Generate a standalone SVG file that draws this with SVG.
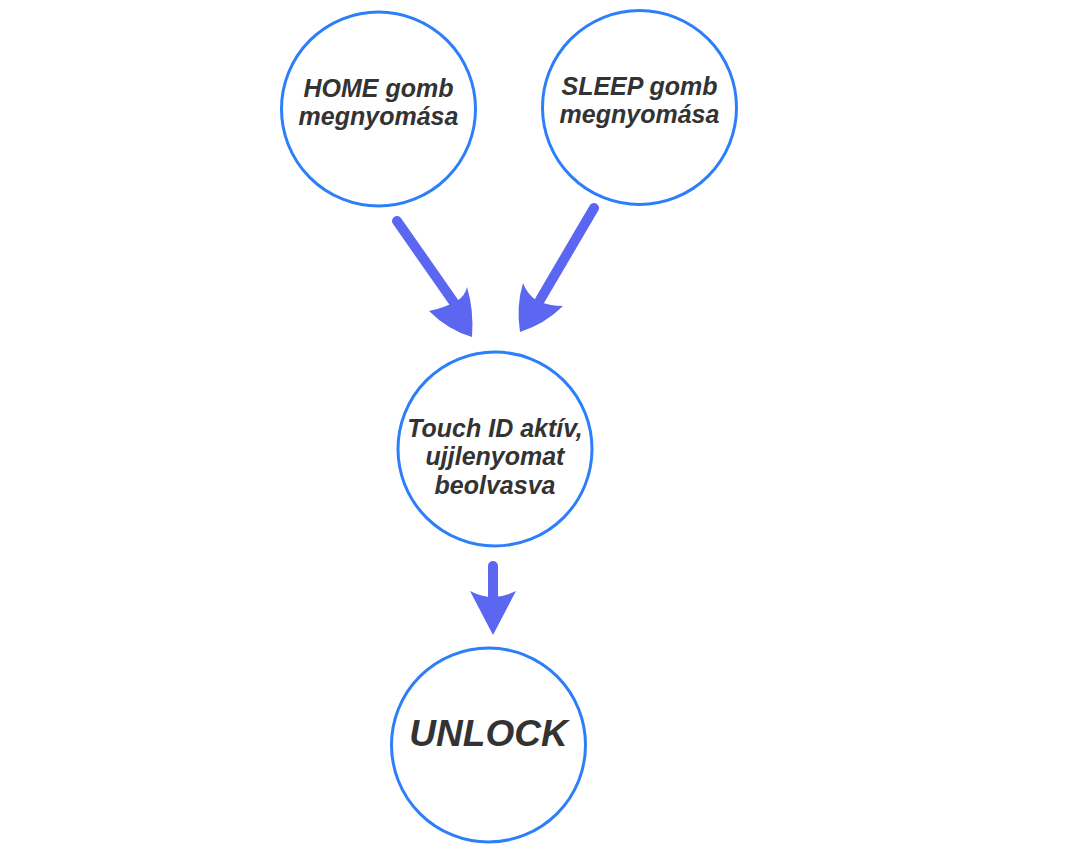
<svg xmlns="http://www.w3.org/2000/svg" width="1075" height="851" viewBox="0 0 1075 851">
<style>
.node{fill:#fff;stroke:#2d7ff9;stroke-width:3}
.t{font-family:"Liberation Sans",Arial,sans-serif;font-weight:bold;font-style:italic;font-size:25px;fill:#333;text-anchor:middle}
.big{font-size:37px}
.shaft{stroke:#5b67f0;stroke-width:10;stroke-linecap:round;fill:none}
.head{fill:#5b67f0}
</style>
<rect width="1075" height="851" fill="#fff"/>
<g id="connectors">
<g id="c1">
<line class="shaft" x1="397" y1="221" x2="455" y2="304"/>
<path class="head" d="M472,337 Q448,330 429,311 Q444,308 457,301 Q465,296 467,287 Q474,310 472,337 Z"/>
</g>
<g id="c2">
<line class="shaft" x1="594" y1="208" x2="540" y2="300"/>
<path class="head" d="M520,332 Q516,306 523,283 Q527,294 537,301 Q550,306 563,306 Q545,324 520,332 Z"/>
</g>
<g id="c3">
<line class="shaft" x1="493" y1="566" x2="493" y2="596"/>
<path class="head" d="M470,591 Q482,597 493,597 Q504,597 516,591 L493,635 Z"/>
</g>
</g>
<g id="n1">
<circle class="node" cx="378.5" cy="109" r="97"/>
<text class="t" x="378.5" y="97">HOME gomb</text>
<text class="t" x="378.5" y="125">megnyomása</text>
</g>
<g id="n2">
<circle class="node" cx="639.5" cy="107.5" r="97"/>
<text class="t" x="639.5" y="95">SLEEP gomb</text>
<text class="t" x="639.5" y="123">megnyomása</text>
</g>
<g id="n3">
<circle class="node" cx="495" cy="449" r="97"/>
<text class="t" x="495" y="437">Touch ID aktív,</text>
<text class="t" x="495" y="465">ujjlenyomat</text>
<text class="t" x="495" y="494">beolvasva</text>
</g>
<g id="n4">
<circle class="node" cx="488.5" cy="745" r="97"/>
<text class="t big" x="488.5" y="746">UNLOCK</text>
</g>
</svg>
